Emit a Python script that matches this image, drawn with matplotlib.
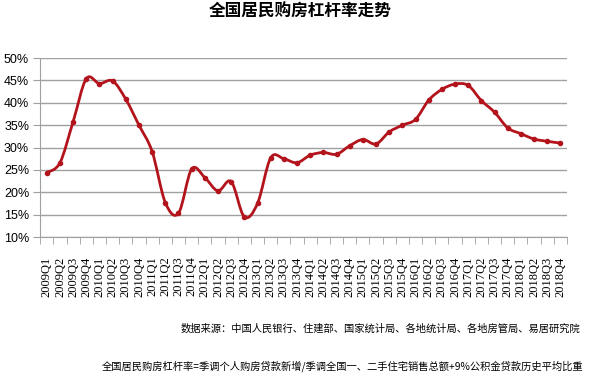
import numpy as np
import matplotlib
matplotlib.use('Agg')
import matplotlib.pyplot as plt
from matplotlib.path import Path
from matplotlib.patches import PathPatch

# 季度
quarters = [f'{y}Q{q}' for y in range(2009, 2019) for q in range(1, 5)]

# 全国居民购房杠杆率 (%)
leverage = [24.4, 26.6, 35.8, 45.4, 44.3, 44.9, 40.8, 35.0,
            29.1, 17.7, 15.3, 25.2, 23.3, 20.3, 22.4, 14.5,
            17.5, 27.7, 27.5, 26.6, 28.3, 28.9, 28.5, 30.4,
            31.8, 30.8, 33.5, 35.0, 36.3, 40.6, 43.0, 44.2,
            43.9, 40.5, 37.9, 34.4, 33.1, 31.9, 31.4, 31.0]

title = '全国居民购房杠杆率走势'
source = '数据来源：中国人民银行、住建部、国家统计局、各地统计局、各地房管局、易居研究院'
note = '全国居民购房杠杆率=季调个人购房贷款新增/季调全国一、二手住宅销售总额+9%公积金贷款历史平均比重'

red = '#B3141C'
grid = '#A0A0A0'

fig = plt.figure(figsize=(6, 3.75), dpi=100)
ax = fig.add_axes([0.067, 0.368, 0.878, 0.477])

x = np.arange(len(leverage))
y = np.array(leverage)

# 平滑曲线 (Catmull-Rom -> Bezier)
verts = [(x[0], y[0])]
codes = [Path.MOVETO]
for i in range(len(x) - 1):
    p0 = np.array([x[max(i - 1, 0)], y[max(i - 1, 0)]])
    p1 = np.array([x[i], y[i]])
    p2 = np.array([x[i + 1], y[i + 1]])
    p3 = np.array([x[min(i + 2, len(x) - 1)], y[min(i + 2, len(x) - 1)]])
    c1 = p1 + (p2 - p0) / 6
    c2 = p2 - (p3 - p1) / 6
    verts += [tuple(c1), tuple(c2), tuple(p2)]
    codes += [Path.CURVE4] * 3
ax.add_patch(PathPatch(Path(verts, codes), fill=False, edgecolor=red, lw=2, zorder=3))
ax.plot(x, y, 'o', color=red, markersize=3, zorder=4)

ax.set_xlim(-0.5, len(x) - 0.5)
ax.set_ylim(10, 50)
ax.set_yticks(range(10, 51, 5))
ax.set_yticklabels([f'{v}%' for v in range(10, 51, 5)], fontsize=9, family='Liberation Sans')
ax.yaxis.grid(True, color=grid, lw=1)
ax.set_axisbelow(True)

ax.set_xticks(x)
ax.set_xticklabels(quarters, rotation=90, fontsize=9, family='Liberation Serif')
ax.set_xticks(np.arange(-0.5, len(x), 1), minor=True)
ax.tick_params(axis='x', which='major', length=0, pad=14)
ax.tick_params(axis='x', which='minor', length=5, color=grid)
ax.tick_params(axis='y', length=5, color=grid, pad=3)

for s in ['top', 'right']:
    ax.spines[s].set_visible(False)
for s in ['left', 'bottom']:
    ax.spines[s].set_color(grid)

cjk = ['Noto Sans CJK SC', 'DejaVu Sans']
fig.text(0.5, 0.968, title, ha='center', va='center', fontsize=12,
         fontweight='bold', family=cjk)
fig.text(0.968, 0.125, source, ha='right', va='center', fontsize=7.4, family=cjk)
fig.text(0.972, 0.024, note, ha='right', va='center', fontsize=7.4, family=cjk)

fig.savefig('out.png', dpi=100, facecolor='white')
